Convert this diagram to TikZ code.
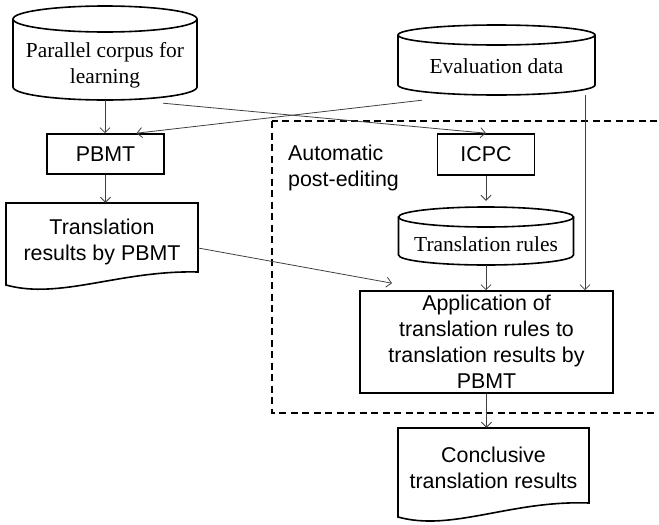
\documentclass[tikz,border=0pt]{standalone}
\usepackage{fontspec}
\setmainfont{Liberation Serif}
\newfontfamily\arialfont{Liberation Sans}
\usetikzlibrary{arrows.meta}
\begin{document}
\begin{tikzpicture}[x=1pt,y=-1pt,
  sans/.style={font=\arialfont\fontsize{21.4}{26}\selectfont},
  serif/.style={font=\fontsize{21.4}{26}\selectfont},
  boxed/.style={draw, line width=1.6pt, inner sep=0pt},
  plain/.style={inner sep=0pt},
  outl/.style={line width=1.6pt},
  arr/.style={draw=black!75, line width=0.8pt, -{Straight Barb[length=5pt,width=10pt]}},
  dashbox/.style={dash pattern=on 7pt off 4.5pt, line width=1.4pt}
]
\useasboundingbox (0,0) rectangle (659,525);
\clip (0,0) rectangle (659,525);

% dashed region
\draw[dashbox] (272,121) rectangle (690,413);

% nodes
\node[plain, serif, minimum width=184pt, minimum height=70pt, align=center] (corpus) at (105,65) {Parallel corpus for\\learning};
\node[plain, serif, minimum width=197pt, minimum height=58pt] (evald) at (496.5,66) {Evaluation data};
\node[boxed, sans, minimum width=117pt, minimum height=40pt] (pbmt) at (105.5,154) {PBMT};
\node[boxed, sans, minimum width=97pt, minimum height=41pt] (icpc) at (486,154.5) {ICPC};
\node[plain, sans, anchor=north west, align=left] (auto) at (288,145) {Automatic\\post-editing};
\node[plain, sans, minimum width=192pt, minimum height=78pt, align=center] (trdoc) at (102,242) {Translation\\results by PBMT};
\node[plain, serif, minimum width=175pt, minimum height=41pt] (rules) at (486,244.5) {Translation rules};
\node[boxed, sans, minimum width=253pt, minimum height=102pt, align=center] (app) at (486.5,342) {Application of\\translation rules to\\translation results by\\PBMT};
\node[plain, sans, minimum width=191pt, minimum height=80pt, align=center] (concl) at (493.5,468) {Conclusive\\translation results};

% cylinder outlines
\draw[outl] (105,19) ellipse [x radius=92pt, y radius=13pt];
\draw[outl] (13,19) -- (13,87) arc[start angle=180,end angle=360,x radius=92pt,y radius=13pt] -- (197,19);
\draw[outl] (496.5,35) ellipse [x radius=98.5pt, y radius=10pt];
\draw[outl] (398,35) -- (398,85) arc[start angle=180,end angle=360,x radius=98.5pt,y radius=10pt] -- (595,35);
\draw[outl] (486,217) ellipse [x radius=87.5pt, y radius=10pt];
\draw[outl] (398.5,217) -- (398.5,255) arc[start angle=180,end angle=360,x radius=87.5pt,y radius=10pt] -- (573.5,217);

% document outlines
\draw[outl] (6,285) -- (6,203) -- (198,203) -- (198,272) .. controls (120,270) and (60,300) .. (6,285) -- cycle;
\draw[outl] (398,517) -- (398,428) -- (589,428) -- (589,503) .. controls (511,500) and (452,532) .. (398,517) -- cycle;

% connectors
\draw[arr] (corpus.south) -- (corpus.south |- pbmt.north);
\draw[arr] ([xshift=-74.5pt,yshift=-5pt]evald.south) -- ([xshift=31pt]pbmt.north);
\draw[arr] ([xshift=58pt,yshift=-3pt]corpus.south) -- (icpc.north);
\draw[arr] ([xshift=88.5pt]evald.south) -- ([xshift=88.5pt]evald.south |- app.north);
\draw[arr] (pbmt.south) -- (pbmt.south |- trdoc.north);
\draw[arr] (icpc.south) -- ([yshift=23pt]rules.north);
\draw[arr] (rules.south) -- (rules.south |- app.north);
\draw[arr] ([yshift=-6pt]trdoc.east) -- ([xshift=-94.5pt,yshift=7pt]app.north);
\draw[arr] (app.south) -- (app.south |- concl.north);
\end{tikzpicture}
\end{document}
